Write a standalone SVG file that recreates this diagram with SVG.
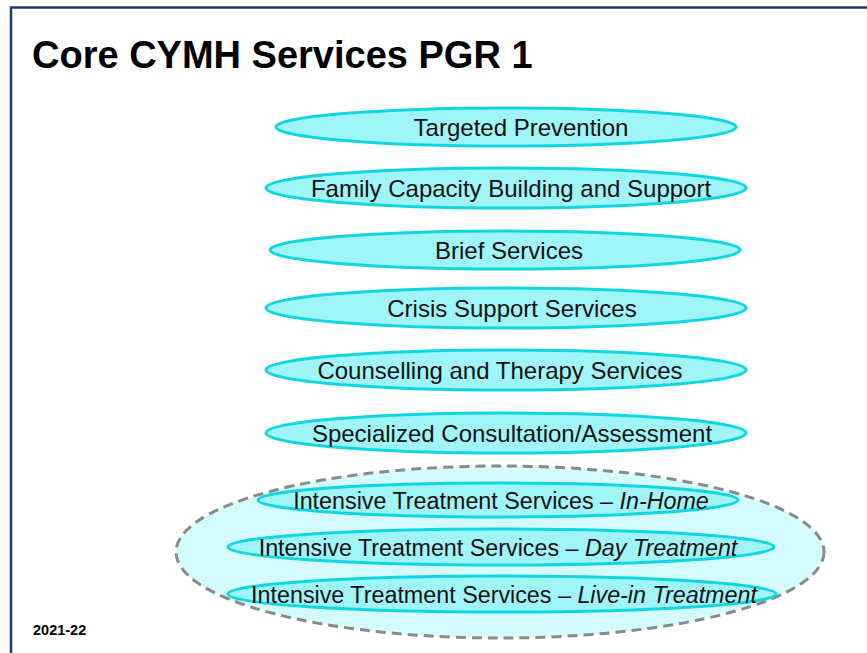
<svg xmlns="http://www.w3.org/2000/svg" width="867" height="653" viewBox="0 0 867 653">
  <style>
    .svc { fill: #9ff5f8; stroke: #10d6e0; stroke-width: 3; }
    .lbl { font-family: "Liberation Sans", Arial, sans-serif; font-size: 24px; fill: #111; text-anchor: middle; }
    .sm { font-size: 23.3px; }
    .it { font-style: italic; }
    .title { font-family: "Liberation Sans", Arial, sans-serif; font-size: 38px; font-weight: bold; fill: #000; }
    .year { font-family: "Liberation Sans", Arial, sans-serif; font-size: 14.5px; font-weight: bold; fill: #000; }
  </style>
  <rect width="867" height="653" fill="#ffffff"/>
  <!-- frame -->
  <path d="M11 653 V7.5 H867" fill="none" stroke="#1f3a7a" stroke-width="2.5"/>
  <text class="title" x="32" y="68">Core CYMH Services PGR 1</text>

  <g id="targeted-prevention">
    <ellipse class="svc" cx="506" cy="127" rx="230" ry="19"/>
    <text class="lbl" x="521" y="135.5">Targeted Prevention</text>
  </g>
  <g id="family-capacity">
    <ellipse class="svc" cx="506" cy="188" rx="240" ry="20"/>
    <text class="lbl" x="511" y="196.5">Family Capacity Building and Support</text>
  </g>
  <g id="brief-services">
    <ellipse class="svc" cx="505" cy="250" rx="235" ry="19"/>
    <text class="lbl" x="509" y="258.5">Brief Services</text>
  </g>
  <g id="crisis-support">
    <ellipse class="svc" cx="506" cy="308" rx="240" ry="20"/>
    <text class="lbl" x="512" y="316.5">Crisis Support Services</text>
  </g>
  <g id="counselling-therapy">
    <ellipse class="svc" cx="506" cy="370" rx="240" ry="20"/>
    <text class="lbl" x="500" y="378.5">Counselling and Therapy Services</text>
  </g>
  <g id="specialized-consultation">
    <ellipse class="svc" cx="506" cy="433" rx="240" ry="20"/>
    <text class="lbl" x="512" y="441.5">Specialized Consultation/Assessment</text>
  </g>

  <g id="intensive-treatment">
    <ellipse cx="500" cy="552" rx="324" ry="86" fill="#d4fbfd" stroke="#8a8a8a" stroke-width="3" stroke-dasharray="10,6"/>
    <g id="in-home">
      <ellipse class="svc" cx="498" cy="500" rx="240" ry="17"/>
      <text class="lbl sm" x="501" y="508.5">Intensive Treatment Services – <tspan class="it">In-Home</tspan></text>
    </g>
    <g id="day-treatment">
      <ellipse class="svc" cx="501" cy="547" rx="273" ry="18"/>
      <text class="lbl sm" x="498" y="555.5">Intensive Treatment Services – <tspan class="it">Day Treatment</tspan></text>
    </g>
    <g id="live-in-treatment">
      <ellipse class="svc" cx="502" cy="594" rx="274" ry="18"/>
      <text class="lbl sm" x="504" y="602.5">Intensive Treatment Services – <tspan class="it">Live-in Treatment</tspan></text>
    </g>
  </g>

  <text class="year" x="33" y="635">2021-22</text>
</svg>
